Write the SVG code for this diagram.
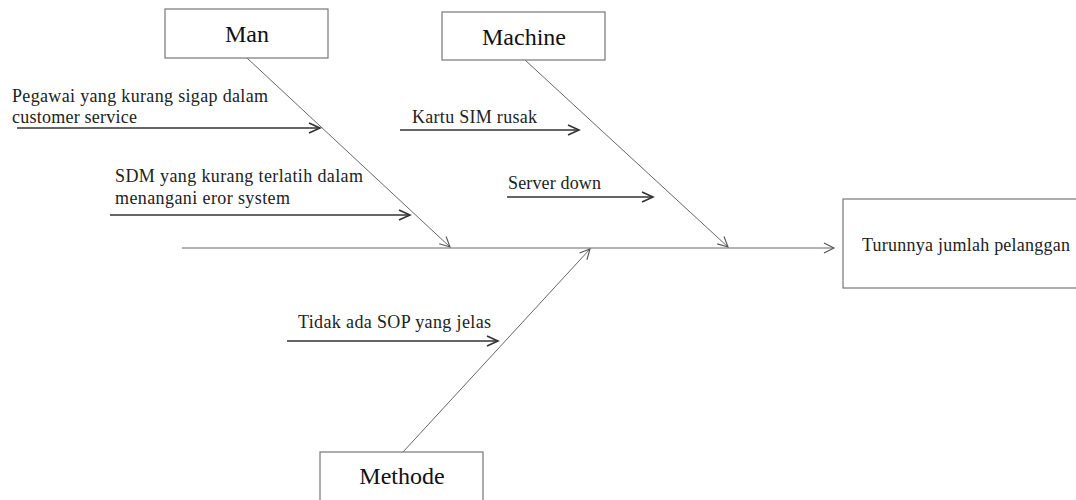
<svg xmlns="http://www.w3.org/2000/svg" width="1076" height="500" viewBox="0 0 1076 500">
<style>
.box{fill:#fff;stroke:#777;stroke-width:1.2}
.cat{font-family:"Liberation Serif",serif;font-size:24px;fill:#111;text-anchor:middle}
.t{font-family:"Liberation Serif",serif;font-size:18px;fill:#222}
.bone{stroke:#666;stroke-width:1;fill:none}
.cause{stroke:#333;stroke-width:1.6;fill:none}
</style>
<defs>
<marker id="ah" markerWidth="16" markerHeight="16" refX="12" refY="8" orient="auto" markerUnits="userSpaceOnUse">
<path d="M2,3 L12,8 L2,13" fill="none" stroke="#555" stroke-width="1.1"/>
</marker>
<marker id="ahc" markerWidth="18" markerHeight="16" refX="14" refY="8" orient="auto" markerUnits="userSpaceOnUse">
<path d="M3,3 L14,8 L3,13" fill="none" stroke="#333" stroke-width="1.6"/>
</marker>
</defs>
<g id="connectors">
<line class="bone" x1="182" y1="248" x2="834" y2="248" marker-end="url(#ah)"/>
<line class="bone" x1="247" y1="58" x2="450" y2="247" marker-end="url(#ah)"/>
<line class="bone" x1="525" y1="60" x2="728" y2="247" marker-end="url(#ah)"/>
<line class="bone" x1="403" y1="452" x2="590" y2="249" marker-end="url(#ah)"/>
<line class="cause" x1="17" y1="128" x2="320" y2="128" marker-end="url(#ahc)"/>
<line class="cause" x1="110" y1="215" x2="410" y2="215" marker-end="url(#ahc)"/>
<line class="cause" x1="400" y1="130" x2="579" y2="130" marker-end="url(#ahc)"/>
<line class="cause" x1="507" y1="197" x2="653" y2="197" marker-end="url(#ahc)"/>
<line class="cause" x1="287" y1="341" x2="498" y2="341" marker-end="url(#ahc)"/>
</g>
<g id="man">
<rect class="box" x="165" y="9" width="163" height="49"/>
<text class="cat" x="247" y="42">Man</text>
</g>
<g id="machine">
<rect class="box" x="442" y="12" width="163" height="48"/>
<text class="cat" x="524" y="45">Machine</text>
</g>
<g id="methode">
<rect class="box" x="320" y="452" width="163" height="60"/>
<text class="cat" x="402" y="484">Methode</text>
</g>
<g id="effect">
<rect class="box" x="843" y="199" width="240" height="89"/>
<text class="t" x="862" y="251" textLength="208" lengthAdjust="spacing">Turunnya jumlah pelanggan</text>
</g>
<g id="cause-pegawai">
<text class="t" x="12" y="102" textLength="256" lengthAdjust="spacing">Pegawai yang kurang sigap dalam</text>
<text class="t" x="12" y="123" textLength="125" lengthAdjust="spacing">customer service</text>
</g>
<g id="cause-sdm">
<text class="t" x="115" y="182" textLength="248" lengthAdjust="spacing">SDM yang kurang terlatih dalam</text>
<text class="t" x="115" y="204" textLength="175" lengthAdjust="spacing">menangani eror system</text>
</g>
<g id="cause-kartu">
<text class="t" x="412" y="123" textLength="125" lengthAdjust="spacing">Kartu SIM rusak</text>
</g>
<g id="cause-server">
<text class="t" x="508" y="189" textLength="93" lengthAdjust="spacing">Server down</text>
</g>
<g id="cause-sop">
<text class="t" x="298" y="328" textLength="193" lengthAdjust="spacing">Tidak ada SOP yang jelas</text>
</g>
</svg>
